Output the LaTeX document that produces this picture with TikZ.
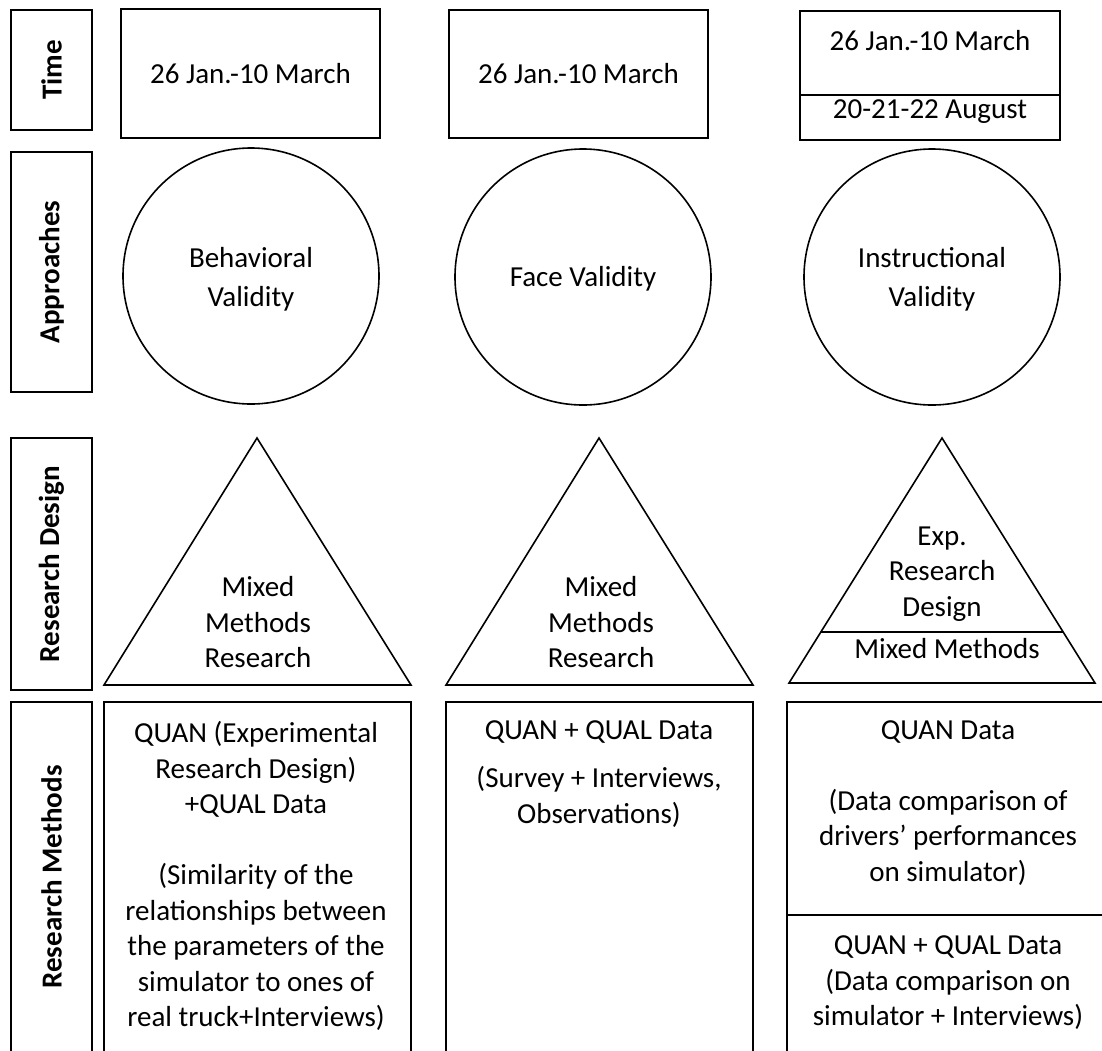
\documentclass[tikz,border=0pt]{standalone}
\usepackage{fontspec}
\setmainfont{Carlito}
\usetikzlibrary{calc}
\begin{document}
\begin{tikzpicture}[x=1pt,y=-1pt,
  outline/.style={draw, line width=1.6pt, line join=miter},
  frame/.style={outline, inner sep=0pt},
  txt/.style={align=center, inner sep=0pt, font=\fontsize{29}{35.5}\selectfont},
  lab/.style={frame, rotate=90, minimum height=81pt, font=\fontsize{29}{35.5}\selectfont\bfseries},
  ]
\useasboundingbox (0,0) rectangle (1102,1050);
\fill[white] (0,0) rectangle (1102,1050);
\clip (0,0) rectangle (1102,1050);

% row headings
\node[lab, minimum width=120pt] (ltime)   at (51.5,70)  {Time};
\node[lab, minimum width=240pt] (lappr)   at (51.5,272) {Approaches};
\node[lab, minimum width=252pt] (ldesign) at (51.5,564) {Research Design};
\node[lab, minimum width=350pt] (lmeth)   at (51.5,877) {Research Methods};

% time row
\node[frame, txt, minimum width=259pt, minimum height=129pt] (d1) at (250.5,73.5) {26 Jan.-10 March};
\node[frame, txt, minimum width=259pt, minimum height=128pt] (d2) at (578.5,74) {26 Jan.-10 March};
\node[frame, minimum width=260pt, minimum height=129pt] (d3) at (930,75.5) {};
\coordinate (d3cut) at (930,95);
\draw[outline] (d3.west |- d3cut) -- (d3.east |- d3cut);
\node[txt] (d3a) at (930,40.5) {26 Jan.-10 March};
\node[txt] (d3b) at (930,111.5) {20-21-22 August};

% approaches row
\node[frame, circle, minimum size=256pt] (c1) at (251,276) {};
\node[frame, circle, minimum size=256pt] (c2) at (583,277) {};
\node[frame, circle, minimum size=256pt] (c3) at (932,277) {};
\node[txt, font=\fontsize{29}{39}\selectfont] (c1t) at (251,279) {Behavioral\\Validity};
\node[txt] (c2t) at (583,279) {Face Validity};
\node[txt, font=\fontsize{29}{39}\selectfont] (c3t) at (932,279) {Instructional\\Validity};

% research design row
\coordinate (t1a) at (257,438); \coordinate (t1l) at (104,685); \coordinate (t1r) at (411,685);
\coordinate (t2a) at (599,438); \coordinate (t2l) at (446,685); \coordinate (t2r) at (753,685);
\coordinate (t3a) at (942,438); \coordinate (t3l) at (789,683); \coordinate (t3r) at (1095,683);
\draw[outline] (t1a) -- (t1r) -- (t1l) -- cycle;
\draw[outline] (t2a) -- (t2r) -- (t2l) -- cycle;
\draw[outline] (t3a) -- (t3r) -- (t3l) -- cycle;
\draw[outline] ($(t3a)!0.792!(t3l)$) -- ($(t3a)!0.792!(t3r)$);
\node[txt] (t1t) at (258,622.5) {Mixed\\Methods\\Research};
\node[txt] (t2t) at (601,622.5) {Mixed\\Methods\\Research};
\node[txt] (t3t) at (942,574) {Exp.\\Research\\Design};
\node[txt] (t3b) at (947,649) {Mixed Methods};

% research methods row
\node[frame, minimum width=307pt, minimum height=358pt] (m1) at (257.5,881) {};
\node[frame, minimum width=307pt, minimum height=358pt] (m2) at (599.5,881) {};
\node[frame, minimum width=323pt, minimum height=358pt] (m3) at (948.5,881) {};
\coordinate (m3cut) at (948,915);
\draw[outline] (m3.west |- m3cut) -- (m3.east |- m3cut);
\node[txt] (m1t) at (256,876) {QUAN (Experimental\\Research Design)\\+QUAL Data\\[35.5pt](Similarity of the\\relationships between\\the parameters of the\\simulator to ones of\\real truck+Interviews)};
\node[txt] (m2t) at (599,774) {QUAN + QUAL Data\\[12.5pt](Survey + Interviews,\\Observations)};
\node[txt] (m3t) at (948,803) {QUAN Data\\[35.5pt](Data comparison of\\drivers’ performances\\on simulator)};
\node[txt] (m3b) at (948,983) {QUAN + QUAL Data\\(Data comparison on\\simulator + Interviews)};
\end{tikzpicture}
\end{document}
